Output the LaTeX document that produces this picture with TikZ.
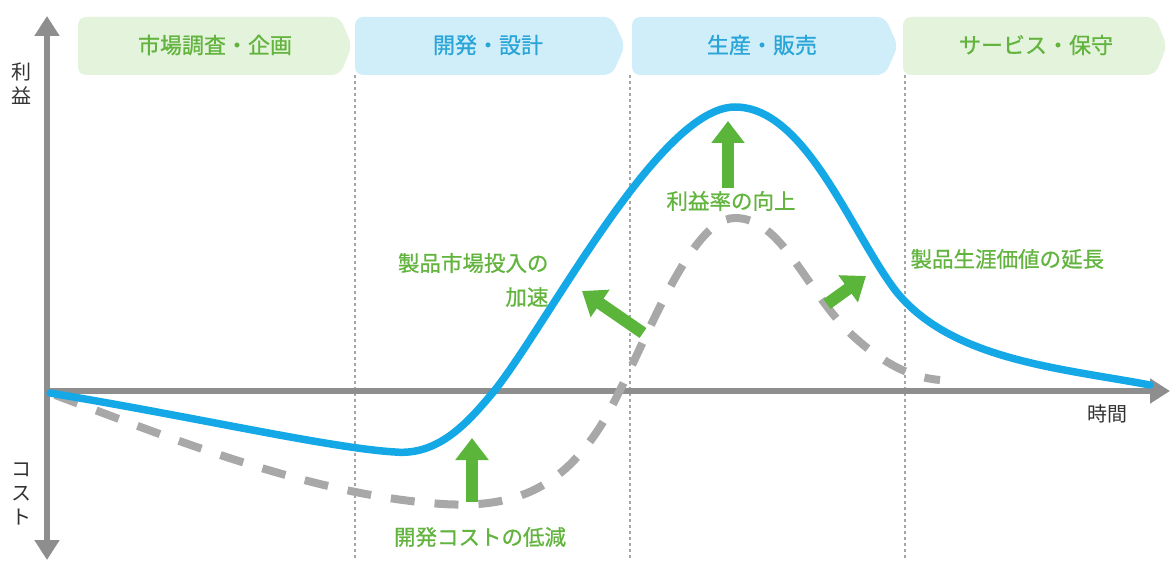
\documentclass[tikz,border=0pt]{standalone}
\usepackage{fontspec}
\setmainfont{Noto Sans CJK JP}
\newfontfamily\boldjp[FakeBold=0.8]{Noto Sans CJK JP}
\usetikzlibrary{arrows.meta}
\definecolor{axisgray}{HTML}{8E8E8E}
\definecolor{dashgray}{HTML}{A8A8A8}
\definecolor{curveblue}{HTML}{14A9E6}
\definecolor{bannergreen}{HTML}{E4F3DC}
\definecolor{bannerblue}{HTML}{CFEEFA}
\definecolor{textgreen}{HTML}{62B43E}
\definecolor{textblue}{HTML}{2AA5D8}
\definecolor{arrowgreen}{HTML}{5BB53A}
\tikzset{
  axis/.style={draw=axisgray, line width=6pt, {Triangle[width=24pt,length=20pt]}-{Triangle[width=24pt,length=20pt]}},
  haxis/.style={draw=axisgray, line width=6pt, -{Triangle[width=24pt,length=20pt]}},
  phase/.style={draw=axisgray!80, line width=1.6pt, dash pattern=on 3pt off 3pt},
  banner/.style={rounded corners=8pt},
  bantext/.style={font=\boldjp\fontsize{22}{26}\selectfont},
  lbl/.style={font=\boldjp\fontsize{21.5}{26}\selectfont, text=textgreen},
  axlbl/.style={font=\fontsize{20}{24}\selectfont, text=black!80, align=center, inner sep=0pt},
  garrow/.style={draw=arrowgreen, line width=12pt, -{Triangle[width=32pt,length=22pt]}},
  bluecurve/.style={draw=curveblue, line width=7.5pt, line cap=round},
  graycurve/.style={draw=dashgray, line width=8pt, dash pattern=on 24pt off 20pt},
}
\begin{document}
\begin{tikzpicture}[x=1pt,y=-1pt]
\useasboundingbox (0,0) rectangle (1172,561);
% banners
\fill[bannergreen, banner] (78,17) -- (340,17) -- (352,46) -- (340,75) -- (78,75) -- cycle;
\fill[bannerblue, banner] (355,17) -- (612,17) -- (625,46) -- (612,75) -- (355,75) -- cycle;
\fill[bannerblue, banner] (632,17) -- (885,17) -- (898,46) -- (885,75) -- (632,75) -- cycle;
\fill[bannergreen, banner] (903,17) -- (1155,17) -- (1167,46) -- (1155,75) -- (903,75) -- cycle;
\node[bantext, text=textgreen] (b1) at (215,45) {市場調査・企画};
\node[bantext, text=textblue] (b2) at (488,45) {開発・設計};
\node[bantext, text=textblue] (b3) at (762,45) {生産・販売};
\node[bantext, text=textgreen] (b4) at (1036,45) {サービス・保守};
% phase separators
\draw[phase] (355,75) -- (355,558);
\draw[phase] (630,75) -- (630,558);
\draw[phase] (905,75) -- (905,558);
% axes
\coordinate (top) at (47,16);
\coordinate (bot) at (47,560);
\coordinate (orig) at (47,391);
\coordinate (right) at (1170,391);
\draw[axis] (bot) -- (top);
\draw[haxis] (orig) -- (right);
\node[axlbl] (profit) at (21,84) {利\\益};
\node[axlbl] (cost) at (21,494) {コ\\ス\\ト};
\node[axlbl] (time) at (1107,414) {時間};
% gray dashed curve
\draw[graycurve] (55,395) .. controls (150,430) and (300,492) .. (430,503)
  .. controls (505,510) and (555,495) .. (598,430)
  .. controls (635,375) and (685,218) .. (735,218)
  .. controls (782,218) and (805,290) .. (852,335)
  .. controls (890,370) and (918,378) .. (940,380);
% blue curve
\draw[bluecurve] (50,393) .. controls (200,418) and (330,448) .. (395,452)
  .. controls (440,456) and (470,420) .. (495,390)
  .. controls (550,320) and (660,107) .. (735,107)
  .. controls (805,107) and (850,230) .. (895,290)
  .. controls (950,360) and (1060,368) .. (1150,385);
% green arrows
\coordinate (a1s) at (472,502); \coordinate (a1e) at (472,438);
\coordinate (a2s) at (643,333); \coordinate (a2e) at (582,291);
\coordinate (a3s) at (728,188); \coordinate (a3e) at (728,121);
\coordinate (a4s) at (827,304); \coordinate (a4e) at (866,276);
\draw[garrow] (a1s) -- (a1e);
\draw[garrow] (a2s) -- (a2e);
\draw[garrow] (a3s) -- (a3e);
\draw[garrow] (a4s) -- (a4e);
% labels
\node[lbl] (l1) at (480,537) {開発コストの低減};
\node[lbl] (l3) at (731,201) {利益率の向上};
\node[lbl, anchor=east] (l2a) at (552,263) {製品市場投入の};
\node[lbl, anchor=east] (l2b) at (552,297) {加速};
\node[lbl, anchor=west] (l4) at (907,259) {製品生涯価値の延長};
\end{tikzpicture}
\end{document}
